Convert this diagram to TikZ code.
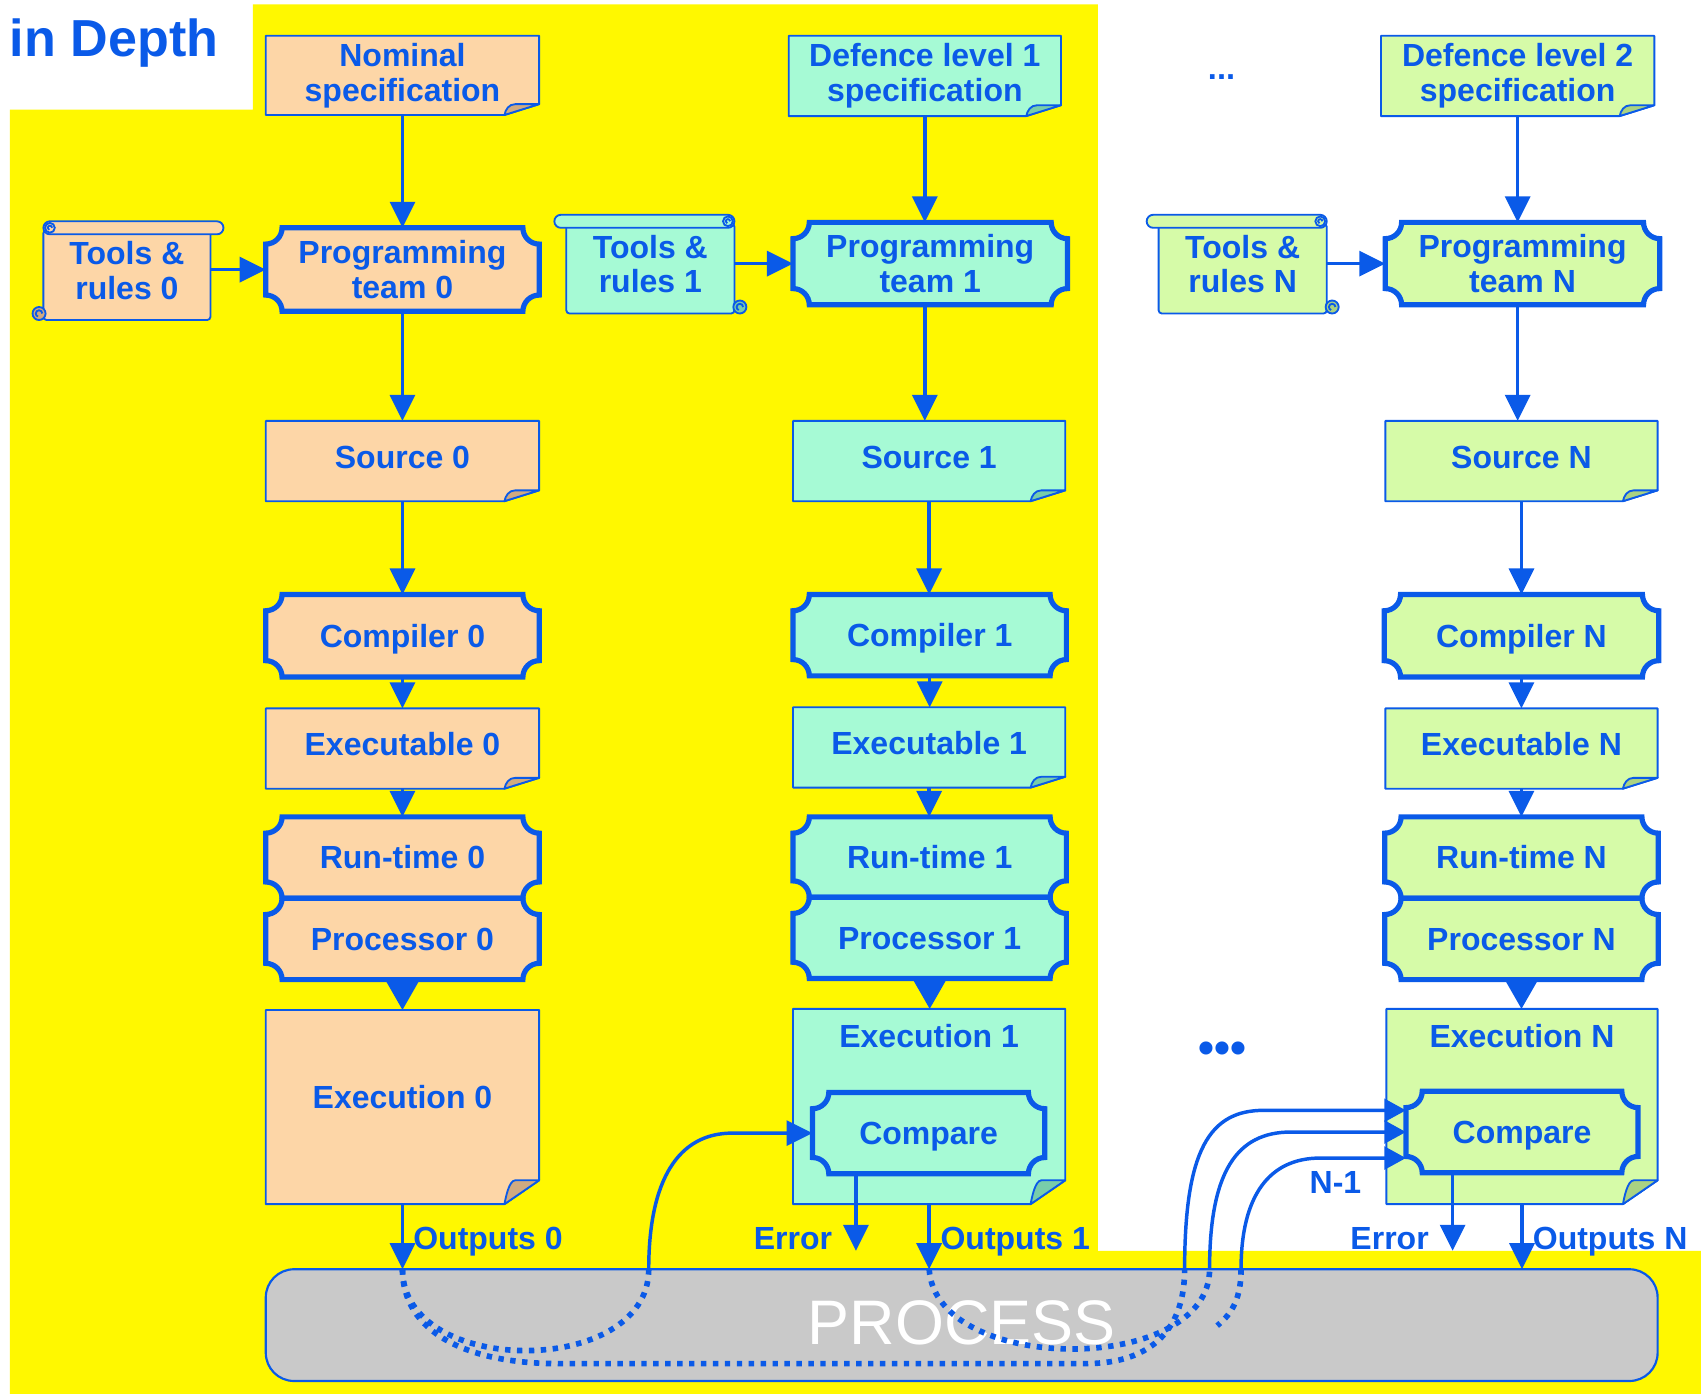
\documentclass[tikz,border=0pt]{standalone}
\usepackage{fontspec}
\setmainfont{Liberation Sans}
\usetikzlibrary{arrows.meta}
\definecolor{bl}{RGB}{10,90,232}
\definecolor{yelc}{RGB}{255,248,0}
\definecolor{orF}{RGB}{253,214,167}
\definecolor{orD}{RGB}{208,170,128}
\definecolor{mnF}{RGB}{166,250,213}
\definecolor{mnD}{RGB}{120,205,170}
\definecolor{gnF}{RGB}{214,251,168}
\definecolor{gnD}{RGB}{170,210,130}
\definecolor{gry}{RGB}{201,201,201}
\pgfdeclarelayer{yel}
\pgfdeclarelayer{shp}
\pgfsetlayers{yel,shp,main}

\newcommand\Ticket[8][]{%
 \node[tk,#1,minimum width=#5pt,minimum height=#6pt] (#2) at (#3,#4) {#8};
 \begin{pgfonlayer}{shp}
 \filldraw[tkl,fill=#7] ([xshift=15pt]#2.north west) -- ([xshift=-15pt]#2.north east)
   arc[start angle=180,end angle=270,radius=15pt] -- ([yshift=15pt]#2.south east)
   arc[start angle=90,end angle=180,radius=15pt] -- ([xshift=15pt]#2.south west)
   arc[start angle=0,end angle=90,radius=15pt] -- ([yshift=-15pt]#2.north west)
   arc[start angle=270,end angle=360,radius=15pt] -- cycle;
 \end{pgfonlayer}}

\newcommand\Doc[9][]{%
 \node[tk,#1,minimum width=#5pt,minimum height=#6pt] (#2) at (#3,#4) {#9};
 \begin{pgfonlayer}{shp}
 \filldraw[docl,fill=#7F] (#2.north west) -- (#2.north east) -- ([yshift=#8pt]#2.south east)
   -- ([xshift=-32pt]#2.south east) -- (#2.south west) -- cycle;
 \filldraw[docl,fill=#7D] ([xshift=-32pt]#2.south east) .. controls ([xshift=-31pt,yshift=5pt]#2.south east)
   and ([xshift=-28pt,yshift=#8pt]#2.south east) .. ([xshift=-22pt,yshift=#8pt]#2.south east)
   -- ([yshift=#8pt]#2.south east) -- cycle;
 \end{pgfonlayer}}

\newcommand\ScrollL[3]{%
 \begin{pgfonlayer}{shp}
 \filldraw[scl,fill=#2,rounded corners=3pt] ([yshift=-8pt]#1.north west) rectangle (#1.south east);
 \filldraw[scl,fill=#2,rounded corners=6pt] (#1.north west) rectangle ([xshift=12pt,yshift=-12pt]#1.north east);
 \filldraw[scl,fill=#3] ([xshift=-4pt,yshift=6pt]#1.south west) circle (6pt);
 \draw[scl] ([xshift=-1pt,yshift=6pt]#1.south west) arc[start angle=0,end angle=250,radius=3pt];
 \filldraw[scl,fill=#2] ([xshift=6pt,yshift=-6pt]#1.north west) circle (4.5pt);
 \draw[scl] ([xshift=8pt,yshift=-6pt]#1.north west) arc[start angle=0,end angle=250,radius=2pt];
 \end{pgfonlayer}}

\newcommand\ScrollR[3]{%
 \begin{pgfonlayer}{shp}
 \filldraw[scl,fill=#2,rounded corners=3pt] ([yshift=-8pt]#1.north west) rectangle (#1.south east);
 \filldraw[scl,fill=#2,rounded corners=6pt] ([xshift=-11pt]#1.north west) rectangle ([yshift=-12pt]#1.north east);
 \filldraw[scl,fill=#3] ([xshift=5pt,yshift=6pt]#1.south east) circle (6pt);
 \draw[scl] ([xshift=8pt,yshift=6pt]#1.south east) arc[start angle=0,end angle=250,radius=3pt];
 \filldraw[scl,fill=#2] ([xshift=-6pt,yshift=-6pt]#1.north east) circle (4.5pt);
 \draw[scl] ([xshift=-4pt,yshift=-6pt]#1.north east) arc[start angle=0,end angle=250,radius=2pt];
 \end{pgfonlayer}}

\begin{document}
\begin{tikzpicture}[x=1pt,y=-1pt,
  tk/.style={inner sep=0pt,outer sep=0pt,align=center,text=bl,font=\fontsize{29.5}{32}\selectfont\bfseries},
  one/.style={text height=24pt,text depth=3pt},
  onedoc/.style={text height=22pt,text depth=9pt},
  tkl/.style={draw=bl,line width=4.8pt,line join=miter},
  docl/.style={draw=bl,line width=1.7pt,line join=round},
  scl/.style={draw=bl,line width=1.7pt},
  arr/.style={draw=bl,line width=3.2pt,-{Triangle[length=24pt,width=23pt]}},
  big/.style={-{Triangle[length=27pt,width=30pt]}},
  sm/.style={-{Triangle[length=20pt,width=21pt]}},
  dots/.style={draw=bl,line width=5.2pt,dash pattern=on 5pt off 6pt},
  lbl/.style={text=bl,font=\fontsize{29.5}{32}\selectfont\bfseries,inner sep=0pt,outer sep=0pt,text height=21pt,text depth=0pt}]
\useasboundingbox (0,0) rectangle (1568,1285);
\begin{pgfonlayer}{yel}
\fill[yelc] (9,101) -- (233,101) -- (233,4) -- (1012,4) -- (1012,1153) -- (1568,1153) -- (1568,1285) -- (9,1285) -- cycle;
\end{pgfonlayer}

\node[anchor=base west,text=bl,font=\fontsize{48}{50}\selectfont\bfseries,inner sep=0pt] (title) at (9,52) {in Depth};

% ---------- column 0
\Doc{spec0}{371}{69.5}{252}{73}{or}{10}{Nominal\\specification}
\Ticket{team0}{371}{248.5}{252}{77}{orF}{Programming\\team 0}
\node[tk,minimum width=154pt,minimum height=91pt] (tools0) at (117,249.5) {Tools \&\\rules 0};
\ScrollL{tools0}{orF}{orD}
\Doc[onedoc]{src0}{371}{425}{252}{74}{or}{10}{Source 0}
\Ticket[one]{comp0}{371}{586}{252}{76}{orF}{Compiler 0}
\Doc[onedoc]{exe0}{371}{690}{252}{74}{or}{10}{Executable 0}
\Ticket[one]{rt0}{371}{790.5}{252}{75}{orF}{Run-time 0}
\Ticket[one]{pr0}{371}{865.5}{252}{75}{orF}{Processor 0}
\Doc[text height=12pt,text depth=9pt]{ex0}{371}{1020.5}{252}{179}{or}{22}{Execution 0}

% ---------- column 1
\Doc{spec1}{852.5}{70}{251}{74}{mn}{10}{Defence level 1\\specification}
\Ticket{team1}{857.5}{243}{253}{76}{mnF}{Programming\\team 1}
\node[tk,minimum width=155pt,minimum height=91pt] (tools1) at (599.5,243.5) {Tools \&\\rules 1};
\ScrollR{tools1}{mnF}{mnD}
\Doc[onedoc]{src1}{856.5}{425}{251}{74}{mn}{10}{Source 1}
\Ticket[one]{comp1}{857}{585.5}{252}{75}{mnF}{Compiler 1}
\Doc[onedoc]{exe1}{856.5}{689}{251}{74}{mn}{10}{Executable 1}
\Ticket[one]{rt1}{857}{790}{252}{74}{mnF}{Run-time 1}
\Ticket[one]{pr1}{857}{864.5}{252}{75}{mnF}{Processor 1}
\Doc{ex1}{856.5}{1020}{251}{180}{mn}{22}{}
\node[lbl] (ex1t) at (856.5,955) {Execution 1};
\Ticket[one]{cmp1}{856}{1044.5}{214}{75}{mnF}{Compare}

% ---------- column N
\Doc{specN}{1399}{70}{252}{74}{gn}{10}{Defence level 2\\specification}
\Ticket{teamN}{1403.5}{243}{253}{76}{gnF}{Programming\\team N}
\node[tk,minimum width=155pt,minimum height=91pt] (toolsN) at (1145.5,243.5) {Tools \&\\rules N};
\ScrollR{toolsN}{gnF}{gnD}
\Doc[onedoc]{srcN}{1402.5}{425}{251}{74}{gn}{10}{Source N}
\Ticket[one]{compN}{1402.5}{586}{253}{76}{gnF}{Compiler N}
\Doc[onedoc]{exeN}{1402.5}{690}{251}{74}{gn}{10}{Executable N}
\Ticket[one]{rtN}{1402.5}{790.5}{252}{75}{gnF}{Run-time N}
\Ticket[one]{prN}{1402.5}{865.5}{252}{75}{gnF}{Processor N}
\Doc{exN}{1403}{1020}{250}{180}{gn}{22}{}
\node[lbl] (exNt) at (1403,955) {Execution N};
\Ticket[one]{cmpN}{1403}{1043.5}{214}{75}{gnF}{Compare}

% ---------- ellipses
\node[anchor=base,text=bl,font=\fontsize{30}{32}\selectfont\bfseries,inner sep=0pt] (dotsA) at (1126,73) {...};
\node[anchor=base,text=bl,font=\fontsize{42}{44}\selectfont\bfseries,inner sep=0pt] (dotsB) at (1127,980) {•••};

% ---------- process
\node[draw=bl,line width=2pt,fill=gry,rounded corners=26pt,minimum width=1283pt,minimum height=103pt,
  inner sep=0pt,outer sep=0pt,text=white,font=\fontsize{58}{60}\selectfont,text height=35pt,text depth=0pt]
  (proc) at (886.5,1221.5) {PROCESS};

% ---------- arrows column 0
\draw[arr] (spec0.south) -- (spec0.south |- team0.north);
\draw[arr] (team0.south) -- (team0.south |- src0.north);
\draw[arr] (src0.south) -- (src0.south |- comp0.north);
\draw[arr] (comp0.south) -- (comp0.south |- exe0.north);
\draw[arr] (exe0.south) -- (exe0.south |- rt0.north);
\draw[arr,big] (pr0.south) -- (pr0.south |- ex0.north);
\draw[arr] (tools0.east |- team0.west) -- (team0.west);
\draw[arr] (ex0.south) -- (ex0.south |- proc.north);
\node[lbl,anchor=west] (out0) at (381,1141) {Outputs 0};

% ---------- arrows column 1
\draw[arr] (spec1.south) -- (spec1.south |- team1.north);
\draw[arr] (spec1.south |- team1.south) -- (spec1.south |- src1.north);
\draw[arr] (src1.south) -- (src1.south |- comp1.north);
\draw[arr] (comp1.south) -- (comp1.south |- exe1.north);
\draw[arr] (exe1.south) -- (exe1.south |- rt1.north);
\draw[arr,big] (pr1.south) -- (pr1.south |- ex1.north);
\draw[arr] (tools1.east |- team1.west) -- (team1.west);
\coordinate (err1) at (789,1153);
\draw[arr] (cmp1.south -| err1) -- (err1);
\node[lbl,anchor=east] (err1l) at (767,1141) {Error};
\draw[arr] (ex1.south) -- (ex1.south |- proc.north);
\node[lbl,anchor=west] (out1) at (867,1141) {Outputs 1};

% ---------- arrows column N
\draw[arr] (specN.south) -- (specN.south |- teamN.north);
\draw[arr] (specN.south |- teamN.south) -- (specN.south |- srcN.north);
\draw[arr] (srcN.south) -- (srcN.south |- compN.north);
\draw[arr] (compN.south) -- (compN.south |- exeN.north);
\draw[arr] (exeN.south) -- (exeN.south |- rtN.north);
\draw[arr,big] (prN.south) -- (prN.south |- exN.north);
\draw[arr] (toolsN.east |- teamN.west) -- (teamN.west);
\coordinate (errN) at (1339,1153);
\draw[arr] (cmpN.south -| errN) -- (errN);
\node[lbl,anchor=east] (errNl) at (1317,1141) {Error};
\draw[arr] (exN.south) -- (exN.south |- proc.north);
\node[lbl,anchor=west] (outN) at (1413,1141) {Outputs N};

% ---------- feedback into compare
\coordinate (c1) at (598,1170);
\coordinate (c2) at (1092,1170);
\coordinate (c3) at (1115,1170);
\coordinate (c4) at (1144,1170);
\draw[arr] (c1) .. controls (598,1088) and (625,1044.5) .. (675,1044.5) -- (cmp1.west);
\draw[arr,sm] (c2) .. controls (1092,1060) and (1115,1023.5) .. (1165,1023.5) -- ([yshift=20pt]cmpN.west);
\draw[arr,sm] (c3) .. controls (1115,1080) and (1140,1043.5) .. (1190,1043.5) -- (cmpN.west);
\draw[arr,sm] (c4) .. controls (1144,1102) and (1170,1067.5) .. (1217,1067.5) -- ([yshift=-24pt]cmpN.west);
\node[lbl] (nm1) at (1231,1090) {N-1};

% ---------- dotted paths inside process
\draw[dots] (ex0.south |- proc.north) .. controls (371,1270) and (598,1270) .. (c1);
\draw[dots] (ex0.south |- proc.north) .. controls (371,1228) and (430,1257) .. (515,1257) -- (1000,1257)
   .. controls (1065,1257) and (1092,1222) .. (c2);
\draw[dots] (ex1.south |- proc.north) .. controls (863,1268) and (1115,1268) .. (c3);
\draw[dots] (c4) .. controls (1144,1195) and (1137,1210) .. (1122,1222);
\end{tikzpicture}
\end{document}
